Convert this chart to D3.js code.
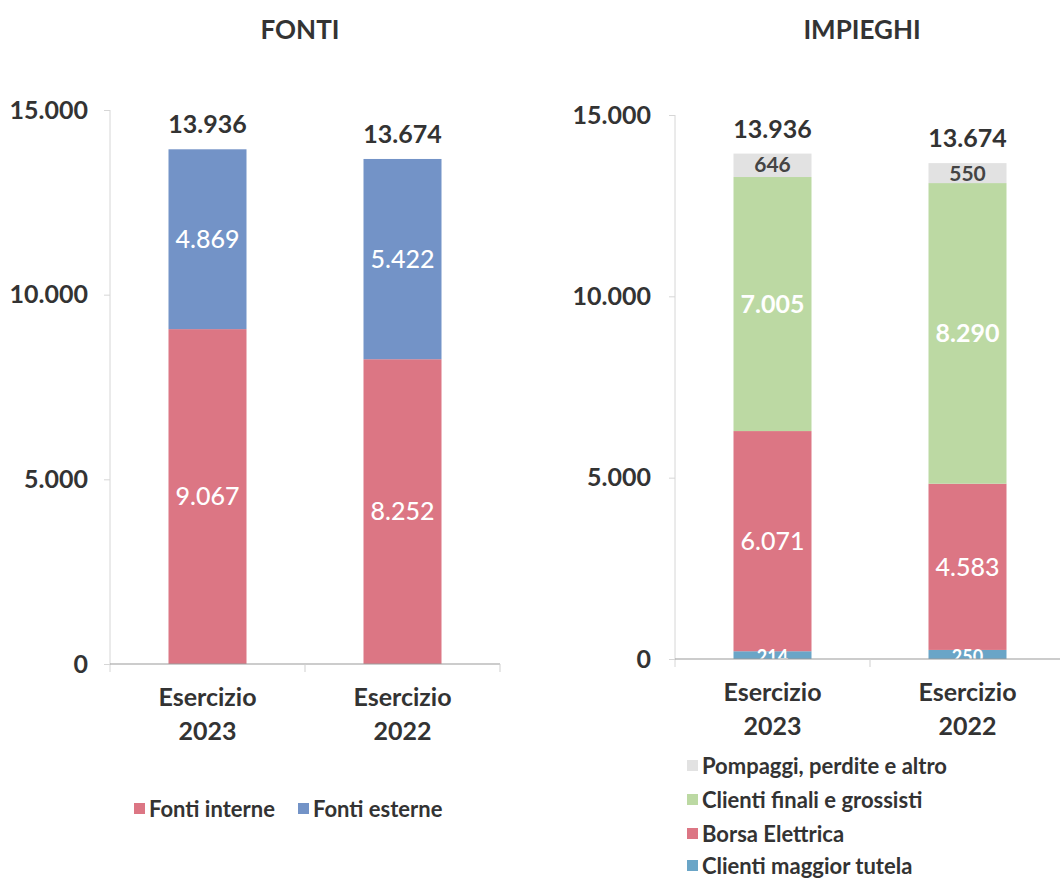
<!DOCTYPE html>
<html><head><meta charset="utf-8">
<script src="https://cdn.jsdelivr.net/npm/d3@7"></script>
<style>
body{margin:0;background:#fff;}
svg{display:block;font-family:Lato,"Open Sans",sans-serif;}
</style></head>
<body>
<svg id="c" width="1060" height="881"></svg>
<script>
const categories = ["Esercizio 2023", "Esercizio 2022"];
const yTicks = [0, 5000, 10000, 15000];

// FONTI
const fontiSeries = ["Fonti interne", "Fonti esterne"];
const fontiInterne = [9067, 8252];
const fontiEsterne = [4869, 5422];
const fontiTotals = [13936, 13674];

// IMPIEGHI (bottom to top)
const impieghiSeries = ["Clienti maggior tutela", "Borsa Elettrica", "Clienti finali e grossisti", "Pompaggi, perdite e altro"];
const clientiMaggiorTutela = [214, 250];
const borsaElettrica = [6071, 4583];
const clientiFinali = [7005, 8290];
const pompaggi = [646, 550];
const impieghiTotals = [13936, 13674];

const fmt = v => d3.format(",")(v).replace(/,/g, ".");
const svg = d3.select("#c");

function drawChart(opt) {
  const g = svg.append("g");
  const y = d3.scaleLinear().domain([0, 15000]).range([opt.y0, opt.y15]);
  const x = d3.scaleBand().domain(categories).range([opt.x0, opt.x1]).paddingInner(0.6).paddingOuter(0.3);
  const xb = d3.scaleBand().domain(categories).range([opt.x0, opt.x1]);

  // title
  g.append("text").attr("x", opt.titleX).attr("y", 39).attr("text-anchor", "middle")
    .attr("font-size", 26).attr("font-weight", 700).attr("fill", "#333").text(opt.title);

  // y axis
  const ya = g.append("g").attr("transform", `translate(${opt.x0},0)`)
    .call(d3.axisLeft(y).tickValues(yTicks).tickSize(6).tickFormat(fmt));
  ya.select(".domain").attr("stroke", "#d6d6d6").attr("d", `M0,${opt.y15}V${opt.y0 + 8}`);
  ya.selectAll(".tick line").attr("stroke", "#d6d6d6");
  ya.selectAll(".tick text").attr("font-size", 25).attr("font-weight", 700).attr("fill", "#333")
    .attr("font-family", "Lato,sans-serif").attr("x", -opt.labelGap);

  // stacked bars
  const stack = d3.stack().keys(opt.series.map((s, i) => i))
    .value((d, k) => opt.values[k][d]);
  const layers = stack(categories.map((c, i) => i));
  const clip = "clip" + opt.title;
  g.append("clipPath").attr("id", clip).append("rect")
    .attr("x", opt.x0).attr("y", 0).attr("width", 1060).attr("height", opt.y0);

  layers.forEach((layer, k) => {
    g.selectAll(null).data(layer).enter().append("rect")
      .attr("x", (d, i) => x(categories[i]))
      .attr("width", x.bandwidth())
      .attr("y", d => y(d[1]))
      .attr("height", d => y(d[0]) - y(d[1]))
      .attr("fill", opt.colors[k]);
  });
  layers.forEach((layer, k) => {
    g.selectAll(null).data(layer).enter().append("text")
      .attr("x", (d, i) => x(categories[i]) + x.bandwidth() / 2)
      .attr("y", d => opt.labelY ? opt.labelY(k, d, y) : (y(d[0]) + y(d[1])) / 2)
      .attr("dy", "0.35em")
      .attr("text-anchor", "middle")
      .attr("font-size", opt.labelSize[k])
      .attr("font-weight", opt.labelWeight[k])
      .attr("fill", opt.labelColor[k])
      .attr("clip-path", `url(#${clip})`)
      .text((d, i) => fmt(opt.values[k][i]));
  });

  // totals
  g.selectAll(null).data(opt.totals).enter().append("text")
    .attr("x", (d, i) => x(categories[i]) + x.bandwidth() / 2)
    .attr("y", d => y(d) - 16)
    .attr("text-anchor", "middle").attr("font-size", 25).attr("font-weight", 700).attr("fill", "#333")
    .text(d => fmt(d));

  // x axis
  g.append("line").attr("x1", opt.x0).attr("x2", opt.baseEnd).attr("y1", opt.y0).attr("y2", opt.y0)
    .attr("stroke", "#9a9a9a").attr("stroke-width", 1.2);
  g.append("line").attr("x1", xb.step() + opt.x0).attr("x2", xb.step() + opt.x0)
    .attr("y1", opt.y0).attr("y2", opt.y0 + 8).attr("stroke", "#cfcfcf");
  g.append("line").attr("x1", opt.x1).attr("x2", opt.x1)
    .attr("y1", opt.y0).attr("y2", opt.y0 + 8).attr("stroke", "#cfcfcf");
  categories.forEach((c, i) => {
    const t = g.append("text").attr("x", x(c) + x.bandwidth() / 2).attr("y", opt.y0 + 42)
      .attr("text-anchor", "middle").attr("font-size", 25).attr("font-weight", 700).attr("fill", "#333");
    const parts = c.split(" ");
    t.append("tspan").attr("x", x(c) + x.bandwidth() / 2).text(parts[0]);
    t.append("tspan").attr("x", x(c) + x.bandwidth() / 2).attr("dy", 34).text(parts[1]);
  });

  // legend
  opt.legend.forEach(l => {
    g.append("rect").attr("x", l.x).attr("y", l.y - 6).attr("width", 11).attr("height", 11)
      .attr("fill", opt.colors[l.k]);
    g.append("text").attr("x", l.x + 15).attr("y", l.y).attr("dy", "0.35em")
      .attr("font-size", 22).attr("font-weight", 700).attr("fill", "#333").text(opt.series[l.k]);
  });
}

drawChart({
  title: "FONTI", titleX: 300,
  x0: 110, x1: 500, baseEnd: 500, y0: 664, y15: 110, labelGap: 22,
  series: fontiSeries, values: [fontiInterne, fontiEsterne], totals: fontiTotals,
  colors: ["#dc7684", "#7393c7"],
  labelSize: [25, 25], labelWeight: [500, 500], labelColor: ["#fff", "#fff"],
  legend: [{k: 0, x: 134, y: 809}, {k: 1, x: 298, y: 809}]
});

drawChart({
  title: "IMPIEGHI", titleX: 862,
  x0: 675, x1: 1065, baseEnd: 1060, y0: 659, y15: 115, labelGap: 24,
  series: impieghiSeries,
  values: [clientiMaggiorTutela, borsaElettrica, clientiFinali, pompaggi], totals: impieghiTotals,
  colors: ["#6aa5c7", "#dc7684", "#bcd9a3", "#e2e2e2"],
  labelSize: [18, 25, 25, 21], labelWeight: [700, 500, 700, 700], labelColor: ["#fff", "#fff", "#fff", "#444"],
  labelY: (k, d, y) => k === 0 ? y(0) - 2 : (k === 3 ? y(d[1]) + 11 : (y(d[0]) + y(d[1])) / 2),
  legend: [{k: 3, x: 687, y: 766}, {k: 2, x: 687, y: 800}, {k: 1, x: 687, y: 834}, {k: 0, x: 687, y: 866}]
});
</script>
</body></html>
